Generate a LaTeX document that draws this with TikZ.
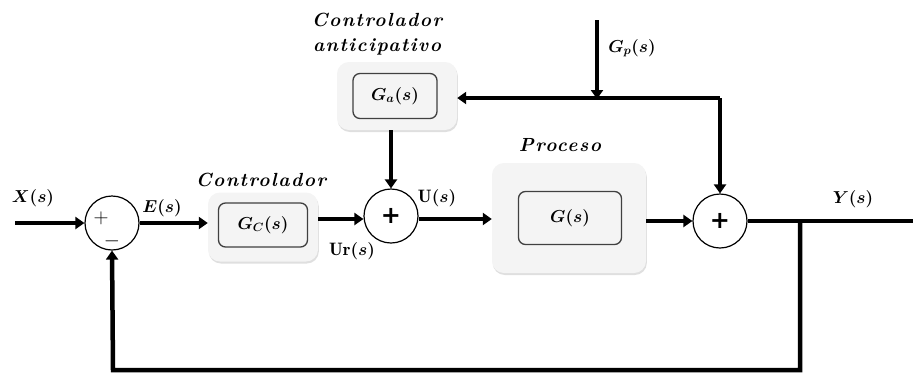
\documentclass[tikz,border=0pt]{standalone}
\usepackage{fontspec}
\usepackage{bm}
\usetikzlibrary{arrows.meta,shadows}
\newfontfamily\plusfont{DejaVu Sans}
\newfontfamily\titlefont{lmroman10-bolditalic.otf}[LetterSpace=8]
\tikzset{
  sig/.style={line width=4.5pt, line join=miter},
  arr/.style={sig, -{Triangle[length=9pt,width=12pt]}},
  sumnode/.style={circle, draw, line width=1.2pt, minimum size=54pt, inner sep=0pt, fill=white},
  outerbox/.style={rounded corners=12pt, fill=gray!9, draw=none,
     drop shadow={shadow xshift=0.8pt, shadow yshift=-2pt, opacity=0.35, fill=gray!70}},
  innerbox/.style={rounded corners=7pt, fill=gray!9, draw=black!75, line width=1.3pt},
  lbl/.style={font=\fontsize{18}{20}\selectfont, inner sep=0pt},
  sign/.style={font=\fontsize{22}{24}\selectfont, inner sep=0pt},
  plus/.style={font=\plusfont\fontsize{24}{26}\selectfont\bfseries, inner sep=0pt},
  title/.style={font=\titlefont\fontsize{19}{25}\selectfont, inner sep=0pt, align=center}
}
\begin{document}
\begin{tikzpicture}[x=1pt,y=-1pt]
\useasboundingbox[fill=white] (0,0) rectangle (913,376);

% summing junctions
\node[sumnode] (s1) at (112,223) {};
\node[sumnode] (s2) at (391,216) {};
\node[sumnode] (s3) at (720,221) {};
\node[sign] (p1) at (101,218) {$+$};
\node[sign] (m1) at (112,241) {$-$};
\node[plus] (p2) at (391,216) {+};
\node[plus] (p3) at (720,221) {+};

% blocks
\node[outerbox, minimum width=110pt, minimum height=69pt] (gc) at (263,227) {};
\node[innerbox, minimum width=89pt, minimum height=44pt, lbl] (gci) at (263,225) {$\bm{G_C(s)}$};

\node[outerbox, minimum width=120pt, minimum height=68pt] (ga) at (397,96) {};
\node[innerbox, minimum width=84pt, minimum height=45pt, lbl] (gai) at (395,96) {$\bm{G_a(s)}$};

\node[outerbox, minimum width=154pt, minimum height=110pt] (gp) at (569,218) {};
\node[innerbox, minimum width=103pt, minimum height=53pt, lbl] (gpi) at (570,218) {$\bm{G(s)}$};

% titles
\node[title] (tgc) at (261,180) {Controlador};
\node[title] (tga) at (377,34) {Controlador\\anticipativo};
\node[title] (tgp) at (560,145) {Proceso};

% signal labels
\node[lbl] (lx) at (33,198) {$\bm{X(s)}$};
\node[lbl] (le) at (162,208) {$\bm{E(s)}$};
\node[lbl] (lur) at (352,251) {$\mathbf{Ur}\bm{(s)}$};
\node[lbl] (lu) at (437,198) {$\mathbf{U}\bm{(s)}$};
\node[lbl] (ly) at (853,199) {$\bm{Y(s)}$};
\node[lbl] (lgp) at (632,48) {$\bm{G_p(s)}$};

% coordinates
\coordinate (xin) at (15,223);
\coordinate (yout) at (913,221);
\coordinate (br) at (800,221);
\coordinate (bot) at (113,370);
\coordinate (gptop) at (597,20);
\coordinate (j) at (597,98);
\coordinate (jr) at (720,98);

% connectors
\draw[arr] (xin) -- (s1.west);
\draw[arr] (s1.east) -- (s1.east -| gc.west);
\draw[arr] (gc.east |- 0,219) -- (s2.west |- 0,219);
\draw[arr] (s2.east |- 0,219) -- (gp.west |- 0,219);
\draw[arr] (gp.east |- 0,221) -- (s3.west);
\draw[sig] (s3.east) -- (yout);
\draw[arr] (br) |- (bot) -- (s1.south);
\draw[arr] (gptop) -- ([yshift=-1pt]j);
\draw[arr] (jr) -- (ga.east |- jr);
\draw[arr] (jr) -- (s3.north);
\draw[arr] (ga.south -| s2.north) -- (s2.north);
\end{tikzpicture}
\end{document}
